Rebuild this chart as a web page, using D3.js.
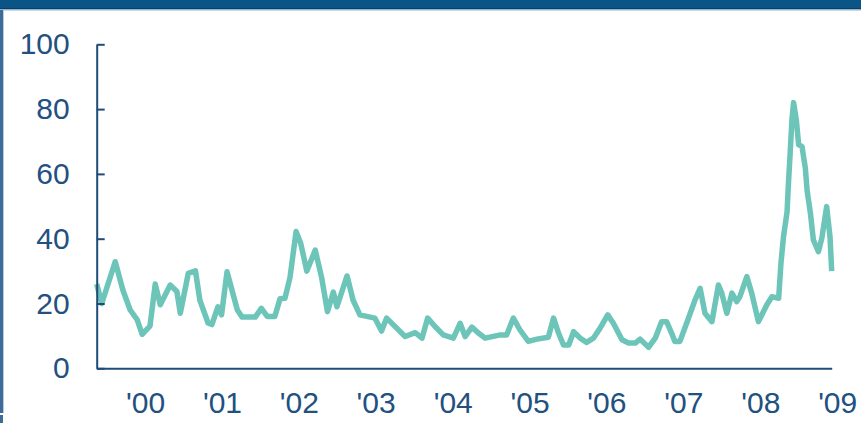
<!DOCTYPE html>
<html>
<head>
<meta charset="utf-8">
<script src="https://cdn.jsdelivr.net/npm/d3@7"></script>
<style>
  html, body { margin: 0; padding: 0; background: #fff; }
  svg { display: block; }
</style>
</head>
<body>
<svg id="chart" width="861" height="423"></svg>
<script>
// ---- data ----
const dates = [
  "1999-11-14","1999-12-08","2000-02-10","2000-03-18","2000-04-21","2000-05-24","2000-06-17",
  "2000-07-24","2000-08-18","2000-09-11","2000-10-28","2000-11-29","2000-12-15",
  "2001-01-22","2001-02-25","2001-03-18","2001-04-26","2001-05-14","2001-06-12","2001-06-29",
  "2001-07-25","2001-09-12","2001-10-05","2001-12-06",
  "2002-01-04","2002-02-01","2002-03-09","2002-04-03","2002-04-26","2002-05-20","2002-06-18",
  "2002-07-10","2002-08-08","2002-09-17","2002-10-18","2002-11-14","2002-12-12","2002-12-29",
  "2003-02-15","2003-03-16","2003-04-17","2003-06-27","2003-07-29","2003-08-22","2003-10-09","2003-11-18",
  "2004-01-05","2004-02-06","2004-03-04","2004-04-08","2004-05-17","2004-07-04","2004-08-05",
  "2004-08-29","2004-09-30","2004-11-01","2004-12-02",
  "2005-02-12","2005-03-14","2005-04-15","2005-05-16","2005-06-25","2005-08-05","2005-09-28",
  "2005-10-23","2005-11-16","2005-12-09",
  "2006-01-03","2006-01-26","2006-02-27","2006-03-29","2006-04-30","2006-06-01","2006-07-07",
  "2006-08-03","2006-09-13","2006-10-14","2006-11-15","2006-12-08",
  "2007-01-17","2007-02-18","2007-03-20","2007-04-13","2007-05-07","2007-05-22","2007-06-15",
  "2007-07-17","2007-08-26","2007-09-19","2007-10-12","2007-11-14","2007-12-15","2007-12-31",
  "2008-01-24","2008-02-17","2008-03-11","2008-03-26","2008-04-28","2008-05-21","2008-06-22",
  "2008-08-01","2008-08-25","2008-09-26","2008-10-07","2008-10-19","2008-11-05","2008-11-12",
  "2008-11-20","2008-11-28","2008-12-06","2008-12-19","2008-12-30",
  "2009-01-15","2009-01-31","2009-02-08","2009-02-24","2009-03-10","2009-04-03","2009-04-19",
  "2009-05-12","2009-05-28","2009-06-05"
];
const values = [
  26,20,32.9,24,18,15,10.5,
  13,26,19.6,25.7,23.7,17,
  29.3,30.1,21,14,13.5,19,16.5,
  29.8,18,15.8,15.8,
  18.5,16,16,21.5,21.6,28,42.2,
  38.6,30,36.5,27.8,17.5,23.5,19,
  28.5,21,16.5,15.5,11.5,15.5,12.4,9.8,
  11,9.3,15.5,12.9,10.3,9.3,13.9,
  9.8,12.7,10.8,9.3,
  10.3,10.3,15.5,11.9,8.3,9,9.6,
  15.5,10.8,7.2,
  7.2,11.3,9.3,8,9.3,12.4,16.5,
  13.9,8.8,7.8,7.8,9,
  6.5,9.3,14.4,14.4,10.8,8.3,8.3,
  13.9,21.1,24.7,17,14.4,25.7,23.2,
  17,23.2,20.6,22.1,28.3,23.2,14.4,
  19.6,22.1,21.6,32.4,40.6,48.3,57.6,
  66.8,76.6,82,76.6,69,
  68.4,61.7,55,47.8,39.6,36,40.1,
  49.9,40.6,30
];
const yTicks = [0, 20, 40, 60, 80, 100];
const xTickDates = ["2000-07-01","2001-07-01","2002-07-01","2003-07-01","2004-07-01",
                    "2005-07-01","2006-07-01","2007-07-01","2008-07-01","2009-07-01"];
const domainDates = ["1999-11-14", "2009-06-05"];

// ---- drawing ----
const parse = d3.utcParse("%Y-%m-%d");
const data = dates.map((d, i) => ({ date: parse(d), value: values[i] }));

const svg = d3.select("#chart");
const W = 861, H = 423;

// frame: top band and left border
svg.append("rect").attr("x", 0).attr("y", 0).attr("width", W).attr("height", 8).attr("fill", "#0a5486");
svg.append("rect").attr("x", 0).attr("y", 8).attr("width", W).attr("height", 1).attr("fill", "#063f6a");
svg.append("rect").attr("x", 0).attr("y", 9).attr("width", W).attr("height", 1.5).attr("fill", "#8fb3d0");
svg.append("rect").attr("x", 0).attr("y", 10).attr("width", 3).attr("height", 403).attr("fill", "#3f6b99");
svg.append("rect").attr("x", 3).attr("y", 10).attr("width", 1).attr("height", 403).attr("fill", "#b9cce0");
svg.append("rect").attr("x", 0).attr("y", 415).attr("width", 3).attr("height", 8).attr("fill", "#3f6b99");

const x = d3.scaleUtc()
  .domain(domainDates.map(parse))
  .range([96.7, 831.7]);
const y = d3.scaleLinear()
  .domain([0, 100])
  .range([368.3, 44.3]);

const axisColor = "#1f4b78";
const textColor = "#22507f";
const font = "'Liberation Sans', Arial, sans-serif";

// line
const line = d3.line()
  .x(d => x(d.date))
  .y(d => y(d.value))
  .curve(d3.curveLinear);

svg.append("path")
  .datum(data)
  .attr("fill", "none")
  .attr("stroke", "#6cc5b8")
  .attr("stroke-width", 5.5)
  .attr("stroke-linejoin", "round")
  .attr("stroke-linecap", "butt")
  .attr("d", line);

// y axis
const yAxis = d3.axisLeft(y)
  .tickValues(yTicks)
  .tickSize(-8)
  .tickSizeOuter(0)
  .tickPadding(27)
  .tickFormat(d3.format("d"));

const gy = svg.append("g")
  .attr("transform", "translate(96.7,0)")
  .call(yAxis);
gy.select(".domain").attr("stroke", axisColor).attr("stroke-width", 2);
gy.selectAll(".tick line").attr("stroke", axisColor).attr("stroke-width", 2);
gy.selectAll(".tick text")
  .attr("fill", textColor)
  .style("font-family", font)
  .style("font-size", "30px");

// x axis
const xAxis = d3.axisBottom(x)
  .tickValues(xTickDates.map(parse))
  .tickSize(0)
  .tickSizeOuter(0)
  .tickPadding(23.5)
  .tickFormat(d3.utcFormat("'%y"));

const gx = svg.append("g")
  .attr("transform", "translate(0,368.3)")
  .call(xAxis);
gx.select(".domain").attr("stroke", axisColor).attr("stroke-width", 2);
gx.selectAll(".tick text")
  .attr("fill", textColor)
  .style("font-family", font)
  .style("font-size", "30px");
</script>
</body>
</html>
